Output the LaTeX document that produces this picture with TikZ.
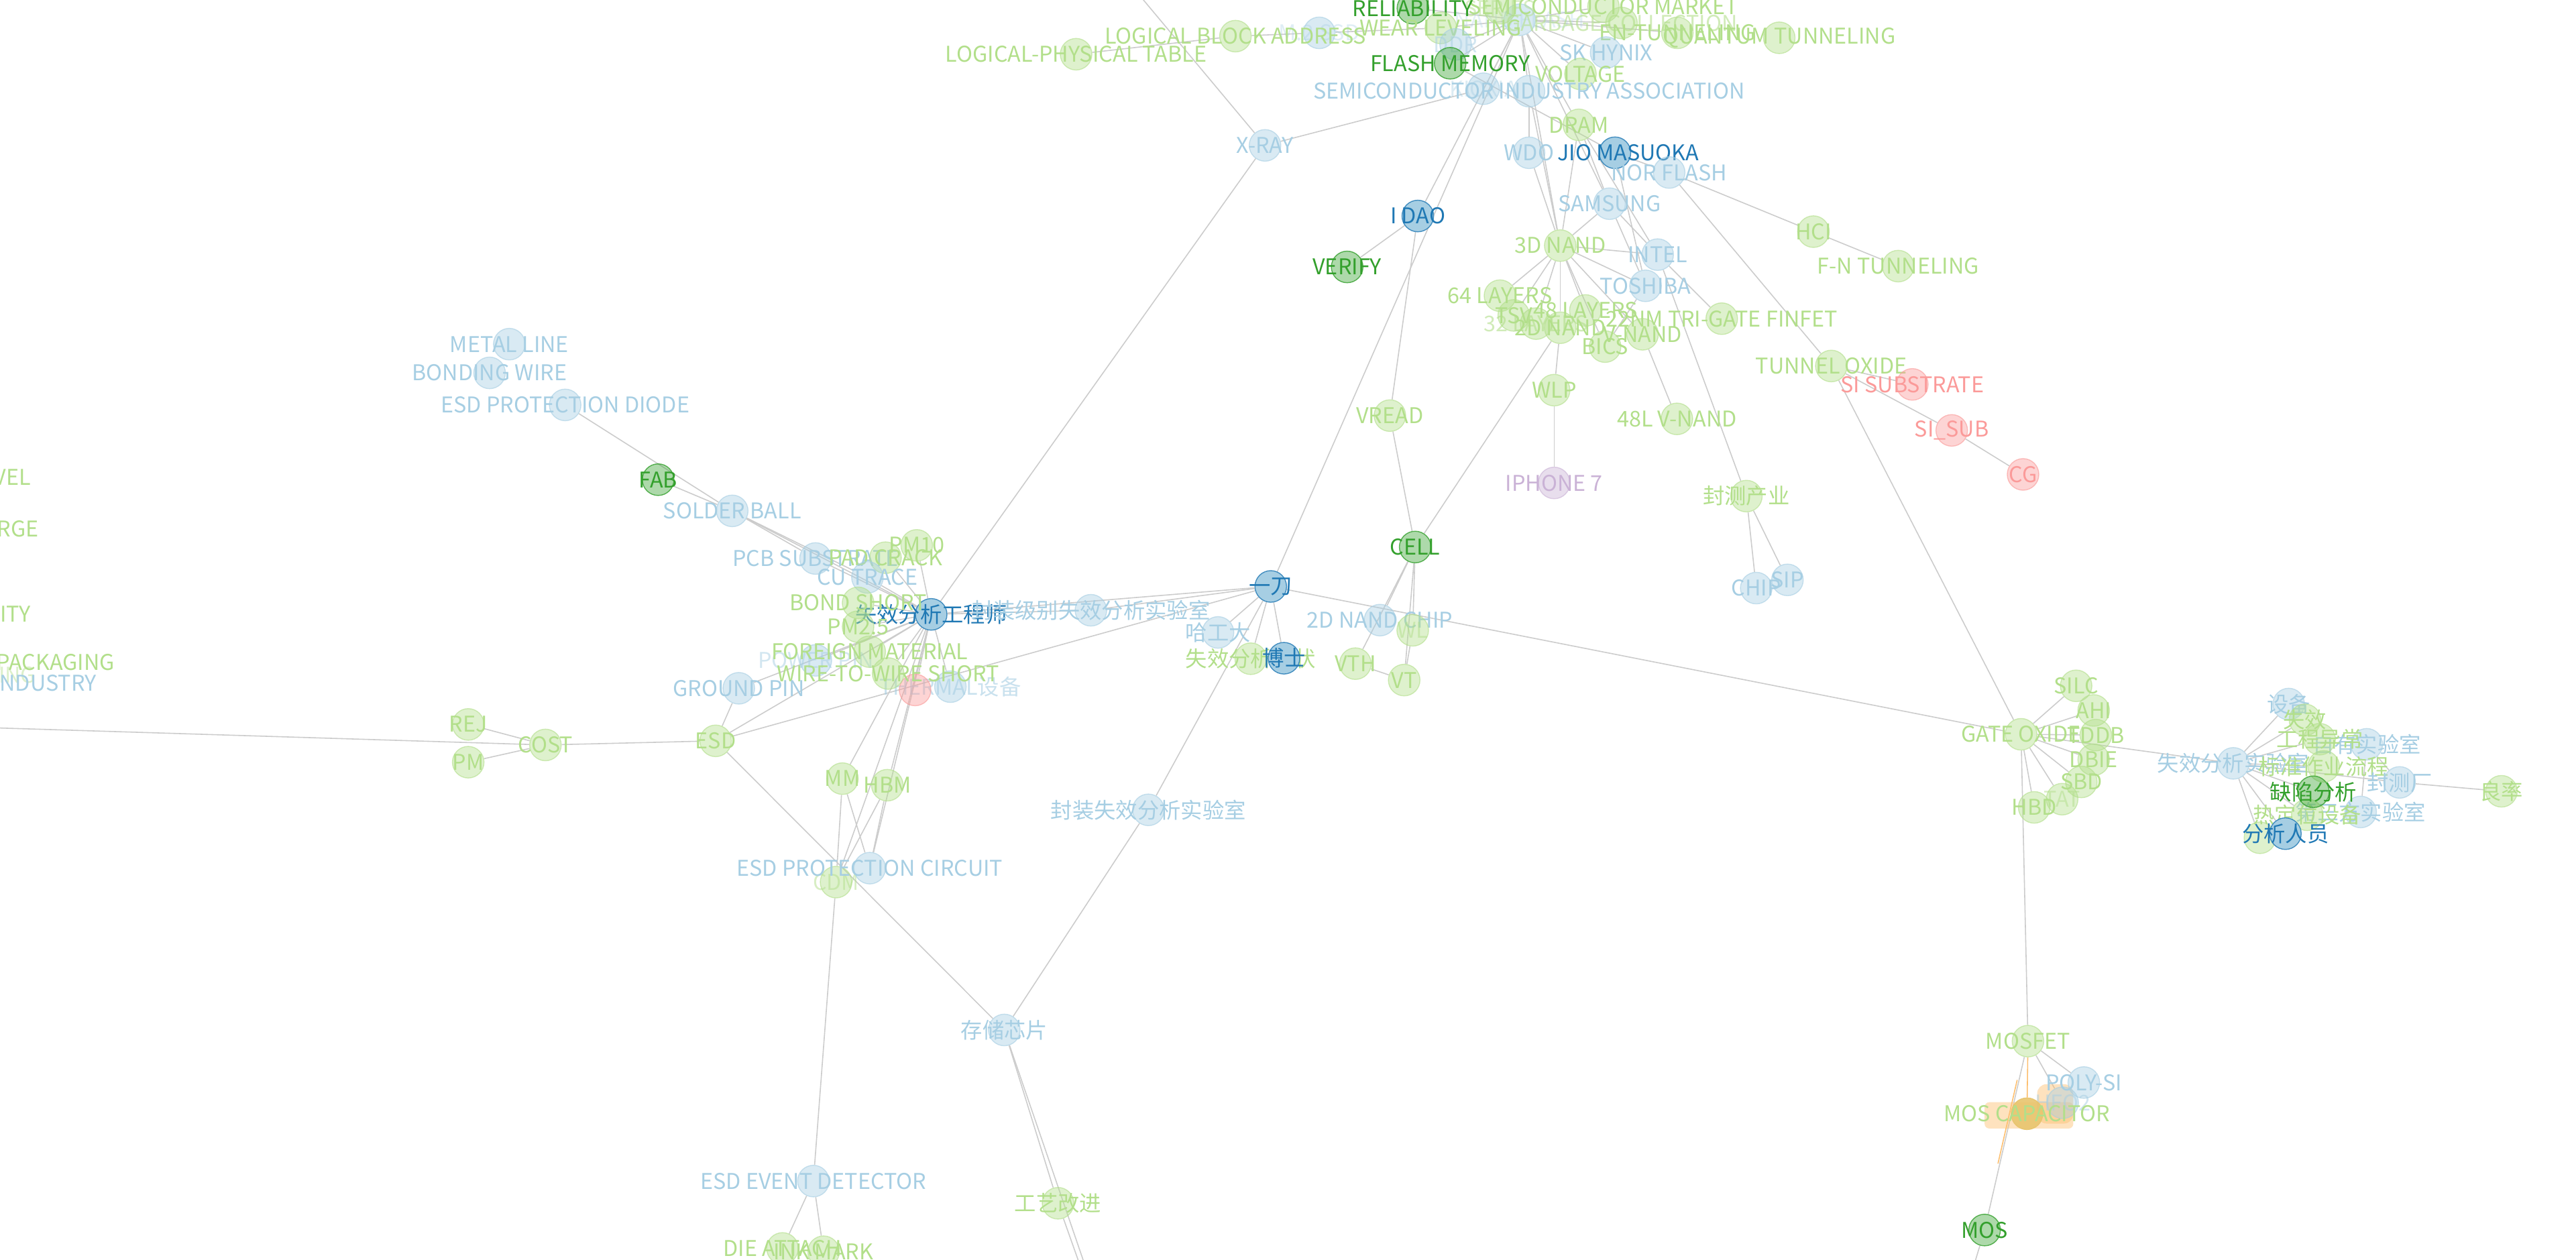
\documentclass[tikz,border=0pt]{standalone}
\usepackage{fontspec}
\setmainfont{Noto Sans CJK SC}
\definecolor{LB}{HTML}{A6CEE3}
\definecolor{DB}{HTML}{1F78B4}
\definecolor{LG}{HTML}{B2DF8A}
\definecolor{DG}{HTML}{33A02C}
\definecolor{PK}{HTML}{FB9A99}
\definecolor{PU}{HTML}{CAB2D6}
\definecolor{OR}{HTML}{FDBF6F}
\definecolor{GD}{HTML}{E8C56E}
\definecolor{ED}{HTML}{CCCCCC}
\newcommand\labfont{\fontsize{9.2}{10}\selectfont}
\newcommand\nd[5][]{\node[#2] (#3) at (#4) {};\node[#2l,#1] at (#3.center) {#5};}
\pgfdeclarelayer{bgl}\pgfdeclarelayer{edl}\pgfsetlayers{bgl,edl,main}
\tikzset{
 nbase/.style={circle,minimum size=13.4pt,inner sep=0pt,line width=.4pt},
 lb/.style={nbase,fill=LB,fill opacity=.42,draw=LB,draw opacity=.6},
 lbl/.style={text=LB,font=\labfont,inner sep=0pt},
 db/.style={nbase,fill=LB,draw=DB,draw opacity=.8},
 dbl/.style={text=DB,font=\labfont,inner sep=0pt},
 lg/.style={nbase,fill=LG,fill opacity=.42,draw=LG,draw opacity=.6},
 lgl/.style={text=LG,font=\labfont,inner sep=0pt},
 dg/.style={nbase,fill=DG,fill opacity=.4,draw=DG,draw opacity=.8},
 dgl/.style={text=DG,font=\labfont,inner sep=0pt},
 pk/.style={nbase,fill=PK,fill opacity=.42,draw=PK,draw opacity=.6},
 pkl/.style={text=PK,font=\labfont,inner sep=0pt},
 pu/.style={nbase,fill=PU,fill opacity=.42,draw=PU,draw opacity=.6},
 pul/.style={text=PU,font=\labfont,inner sep=0pt},
 og/.style={nbase,fill=GD,fill opacity=.9,draw=GD},
 ogl/.style={text=LG,font=\labfont,inner sep=0pt},
 lnk/.style={draw=ED,line width=.45pt},
}
\begin{document}
\begin{tikzpicture}[x=0.697pt,y=-0.697pt]
\useasboundingbox (0,0) rectangle (1568,767);
\begin{pgfonlayer}{bgl}
\fill[white] (0,0) rectangle (1568,767);
\end{pgfonlayer}
% off-canvas ends
\coordinate (ctop) at (691,-6);
\coordinate (cleft) at (-6,443);
\coordinate (cbota) at (661,772);
\coordinate (cbotb) at (658,772);
\coordinate (cbotc) at (1201,772);
% left cut labels
\node[lgl,anchor=east] (cvel) at (19,290.6) {VEL};
\node[lgl,anchor=east] (crge) at (23.7,322) {RGE};
\node[lgl,anchor=east] (city) at (19,373.6) {ITY};
\node[lgl,anchor=east] (cpack) at (70,403) {PACKAGING};
\node[lgl,anchor=east,text opacity=.45] (cing) at (22,411) {ING};
\node[lbl,anchor=east] (cind) at (59,415.8) {INDUSTRY};
% ---------- top cluster
\nd[text opacity=.3]{lb}{nandf}{925,12}{NAND FLASH}
\nd[text opacity=.5]{lg}{series}{913,5}{SERIES}
\nd{lg}{semimkt}{976,4}{SEMICONDUCTOR MARKET}
\nd{dg}{rel}{860,5}{RELIABILITY}
\nd[text opacity=.6]{lg}{garbage}{987,14}{GARBAGE COLLECTION}
\nd{lg}{wear}{877,17}{WEAR LEVELING}
\nd{lg}{entun}{1021,20}{EN-TUNNELING}
\nd{lg}{quantum}{1083,23}{QUANTUM TUNNELING}
\nd[text opacity=.5]{lb}{ddr}{886,27}{DDR}
\nd[text opacity=.35]{lb}{m2ssd}{803,20}{M.2 SSD}
\nd{lg}{lba}{752,22}{LOGICAL BLOCK ADDRESS}
\nd{lg}{lpt}{655,33}{LOGICAL-PHYSICAL TABLE}
\nd{lb}{skhynix}{977.6,32}{SK HYNIX}
\nd{lg}{voltage}{962,45}{VOLTAGE}
\nd{dg}{flash}{882.7,38.5}{FLASH MEMORY}
\nd[text opacity=.4]{lb}{kioxia}{903,54}{KIOXIA}
\nd{lb}{sia}{930.7,55.5}{SEMICONDUCTOR INDUSTRY ASSOCIATION}
\nd{lg}{dram}{961,76}{DRAM}
\nd{lb}{wdo}{930.7,93}{WDO}
\nd[xshift=5.6pt]{db}{masuoka}{983,93}{JIO MASUOKA}
\nd{lb}{norflash}{1016,105}{NOR FLASH}
\nd{lb}{xray}{770,88.5}{X-RAY}
\nd{db}{idao}{863,131.5}{I DAO}
\nd{dg}{verify}{820,162.5}{VERIFY}
\nd{lb}{samsung}{979.7,124}{SAMSUNG}
\nd{lg}{nand3d}{949.7,149.5}{3D NAND}
\nd{lb}{intel}{1009,155}{INTEL}
\nd{lg}{hci}{1103.8,141}{HCI}
\nd{lg}{fntun}{1155.4,162}{F-N TUNNELING}
\nd{lb}{toshiba}{1001.6,174}{TOSHIBA}
\nd{lg}{l64}{913,180}{64 LAYERS}
\nd[text opacity=.6]{lg}{l32}{935,197}{32 LAYERS}
\nd{lg}{tsv}{921.4,192}{TSV}
\nd{lg}{l48}{965,189}{48 LAYERS}
\nd{lg}{finfet}{1048,194}{22NM TRI-GATE FINFET}
\nd{lg}{nand2d}{949.7,199.5}{2D NAND}
\nd{lg}{vnand}{999.8,203.5}{V-NAND}
\nd{lg}{bics}{977,211}{BICS}
\nd{lg}{tunox}{1114.7,222.8}{TUNNEL OXIDE}
\nd{pk}{sisubst}{1164,234}{SI SUBSTRATE}
\nd{lg}{wlp}{946,237.5}{WLP}
\nd{lg}{vread}{846,253}{VREAD}
\nd{lg}{v48l}{1020.7,255}{48L V-NAND}
\nd{pk}{sisub}{1188,262}{SI\_SUB}
\nd{pk}{cg}{1231.4,288.8}{CG}
\nd{pu}{iphone}{946,294}{IPHONE 7}
\nd{lg}{fengce}{1063,302}{封测产业}
\nd{dg}{cell}{861.4,333}{CELL}
\nd{lb}{sip}{1088,353}{SIP}
\nd{lb}{chip}{1069,358}{CHIP}
% ---------- left cluster
\nd{lb}{metal}{310,209.5}{METAL LINE}
\nd{lb}{bwire}{298,227}{BONDING WIRE}
\nd{lb}{esdpd}{344,246.5}{ESD PROTECTION DIODE}
\nd{dg}{fab}{400.6,292}{FAB}
\nd{lb}{sball}{445.7,311}{SOLDER BALL}
\nd{lb}{pcb}{496.4,340}{PCB SUBSTRATE}
\nd{lg}{pm10}{558,332}{PM10}
\nd{lg}{padcrack}{539,339.5}{PAD CRACK}
\nd{lb}{cutrace}{528,351.5}{CU TRACE}
\nd{db}{faeng}{566.8,374}{失效分析工程师}
\nd{lg}{bondshort}{522.3,367}{BOND SHORT}
\nd{lb}{fjlab}{664,371.5}{封装级别失效分析实验室}
\nd{lg}{pm25}{522.3,381.5}{PM2.5}
\nd[text opacity=.5]{lb}{powerpin}{496.6,402}{POWER PIN}
\nd{lg}{foreign}{529.4,396.7}{FOREIGN MATERIAL}
\nd[text opacity=.6]{lb}{thermal}{578.5,418}{THERMAL设备}
\nd{pk}{pinkn}{557,420}{}
\nd{lg}{w2w}{540.6,410}{WIRE-TO-WIRE SHORT}
\nd{lb}{gpin}{449.7,419}{GROUND PIN}
\nd{lg}{rej}{285,441}{REJ}
\nd{lg}{pm}{285,464}{PM}
\nd{lg}{cost}{332,453.5}{COST}
\nd{lg}{esd}{435.6,451}{ESD}
\nd{lg}{mm}{512.8,474}{MM}
\nd{lg}{hbm}{540.1,478}{HBM}
\nd[text opacity=.5]{lg}{cdm}{508.9,537}{CDM}
\nd{lb}{esdpc}{529.4,528.5}{ESD PROTECTION CIRCUIT}
\nd{lb}{fzlab}{699,493}{封装失效分析实验室}
\nd{lb}{storage}{611.3,627}{存储芯片}
\nd{lb}{esdet}{495.1,719}{ESD EVENT DETECTOR}
\nd{lg}{gongyi}{644,732.5}{工艺改进}
\nd{lg}{dieatt}{476.3,760}{DIE ATTACH}
\nd{lg}{inkmark}{501.3,762}{INK MARK}
% ---------- centre
\nd{db}{yidao}{773.5,357}{一刀}
\nd{lb}{hagongda}{741.4,385}{哈工大}
\nd{lg}{faxz}{761.3,401}{失效分析现状}
\nd{db}{boshi}{781.5,400.7}{博士}
\nd{lb}{nandchip}{840,377.5}{2D NAND CHIP}
\nd[text opacity=.5]{lg}{wl}{859.9,383.7}{WL}
\nd{lg}{vth}{825,404}{VTH}
\nd{lg}{vt}{854.7,414}{VT}
% ---------- right
\nd{lg}{gateox}{1230.2,447}{GATE OXIDE}
\nd{lg}{silc}{1263.7,417.5}{SILC}
\nd{lg}{ahi}{1274.4,432.5}{AHI}
\nd{lg}{tddb}{1275.7,447.5}{TDDB}
\nd{lg}{dbie}{1274.4,462.5}{DBIE}
\nd[text opacity=.5]{lg}{tat}{1255.2,486.5}{TAT}
\nd{lg}{sbd}{1266.9,476}{SBD}
\nd{lg}{hbd}{1238.2,491.5}{HBD}
\nd{lb}{falab}{1359.4,464.7}{失效分析实验室}
\nd{lb}{shebei}{1393.1,428.6}{设备}
\nd{lg}{shixiao}{1403,438.2}{失效}
\nd{lb}{ziyou}{1440.6,453.1}{自有实验室}
\nd{lg}{gcyc}{1411.9,450}{工程异常}
\nd{lg}{bzzy}{1414.4,466.5}{标准作业流程}
\nd{lb}{fengcechang}{1460.6,476.3}{封测厂}
\nd{lg}{liang}{1522.6,481.7}{良率}
\nd{lb}{disanfang}{1436.9,494.3}{第三方实验室}
\nd{lg}{rdw}{1404.4,496}{热定位设备}
\nd{dg}{quexian}{1408.1,482}{缺陷分析}
\nd{lg}{zhixing}{1375.6,510}{}
\nd{db}{fxry}{1391.1,507.5}{分析人员}
% ---------- MOS
\fill[OR,opacity=.45,rounded corners=2pt] (1208,671) rectangle (1262,687);
\fill[OR,opacity=.45,rounded corners=4pt] (1240,660) rectangle (1262,684);
\nd{lg}{mosfet}{1234.4,633.8}{MOSFET}
\nd{lb}{polysi}{1268.4,659}{POLY-SI}
\nd[text opacity=.5]{lb}{hfo2}{1255.5,671.3}{HFO2}
\nd{og}{moscap}{1233.8,678}{MOS CAPACITOR}
\nd{dg}{mos}{1208,748.8}{MOS}
% ---------- connectors
\begin{pgfonlayer}{edl}
\foreach \a/\b in {ctop/xray, xray/faeng, xray/kioxia,
 lpt/lba, lba/m2ssd, m2ssd/wear,
 nandf/rel, nandf/wear, nandf/garbage, nandf/flash, nandf/ddr, nandf/skhynix, nandf/voltage, nandf/sia, nandf/kioxia, nandf/dram, nandf/idao, nandf/yidao, nandf/nand3d, nandf/samsung, nandf/entun, nandf/series, nandf/semimkt,
 sia/wdo, sia/nand3d, wdo/nand3d, dram/nand3d, dram/samsung, dram/intel, masuoka/norflash, masuoka/toshiba, masuoka/flash,
 idao/verify, idao/vread, vread/cell,
 samsung/nand3d, samsung/toshiba, samsung/intel,
 nand3d/intel, nand3d/toshiba, nand3d/l64, nand3d/tsv, nand3d/l32, nand3d/l48, nand3d/nand2d, nand3d/bics, nand3d/vnand,
 intel/finfet, nand2d/wlp, wlp/iphone, nand2d/cell, intel/fengce, fengce/chip, fengce/sip, vnand/v48l, toshiba/bics,
 norflash/hci, hci/fntun, norflash/tunox, tunox/sisubst, tunox/sisub, sisub/cg, tunox/gateox,
 cell/nandchip, cell/wl, cell/vt, cell/vth, vth/vt, wl/vt,
 yidao/faeng, yidao/fjlab, yidao/hagongda, yidao/faxz, yidao/boshi, yidao/fzlab, yidao/gateox, yidao/esd, fzlab/storage,
 faeng/sball, faeng/pcb, faeng/cutrace, faeng/padcrack, faeng/pm10, faeng/bondshort, faeng/pm25, faeng/foreign, faeng/powerpin, faeng/w2w, faeng/thermal, faeng/gpin, faeng/esd, faeng/mm, faeng/hbm, faeng/cdm, faeng/esdpc, faeng/fjlab, faeng/pinkn,
 sball/pcb, sball/cutrace, fab/sball, esdpd/sball, gpin/esd, esd/cost, rej/cost, pm/cost, cleft/cost, esd/storage, mm/cdm, mm/esdpc, hbm/cdm, hbm/esdpc, cdm/esdet, esdet/dieatt, esdet/inkmark, storage/gongyi, storage/cbota, gongyi/cbotb,
 gateox/silc, gateox/ahi, gateox/tddb, gateox/dbie, gateox/sbd, gateox/tat, gateox/hbd, gateox/falab, gateox/mosfet,
 falab/shebei, falab/shixiao, falab/gcyc, falab/bzzy, falab/quexian, falab/rdw, falab/fxry, falab/zhixing, falab/fengcechang, fengcechang/liang, fengcechang/ziyou, ziyou/disanfang,
 mosfet/polysi, mosfet/hfo2, mosfet/mos, mos/cbotc}
 \draw[lnk] (\a) -- (\b);
\draw[lnk,draw=OR] (mosfet) -- (moscap);
\draw[lnk,draw=OR,transform canvas={xshift=-.8pt},shorten <=10pt,shorten >=22pt] (mosfet) -- (mos);
\end{pgfonlayer}
\end{tikzpicture}
\end{document}
